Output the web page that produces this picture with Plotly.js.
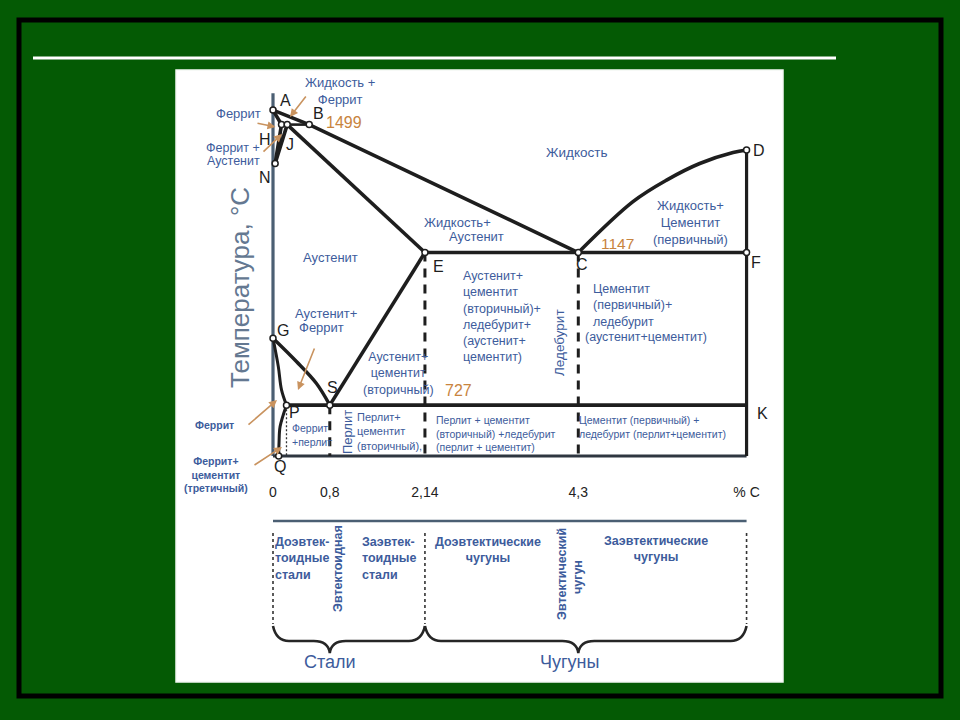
<!DOCTYPE html>
<html><head><meta charset="utf-8">
<script src="https://cdn.plot.ly/plotly-3.0.1.min.js"></script>
<style>html,body{margin:0;padding:0;background:#045a04;} #chart{width:960px;height:720px;}</style>
</head><body><div id="chart"></div>
<script>
// ---------------- data ----------------
const pointLabels = ['A','B','H','J','N','E','C','D','F','G','S','P','Q','K'];
const pointCarbon = [0, 0.51, 0.12, 0.2, 0.03, 2.14, 4.3, 6.67, 6.67, 0, 0.8, 0.19, 0.08, 6.67];
const pointTemp   = [1539, 1499, 1499, 1499, 1392, 1147, 1147, 1429, 1147, 911, 727, 727, 587, 727];
const isothermLabels = ['1499', '1147', '727'];
const liquidusCD_C = [4.3, 5.07, 5.55, 6.01, 6.48, 6.67];
const liquidusCD_T = [1147, 1287, 1347, 1392, 1422, 1429];
const curveGS_C = [0, 0.33, 0.61, 0.8];
const curveGS_T = [911, 847, 787, 727];
const curveGP_C = [0, 0.075, 0.12, 0.19];
const curveGP_T = [911, 833, 769, 727];
const curvePQ_C = [0.19, 0.1, 0.085, 0.08];
const curvePQ_T = [727, 668, 623, 587];
const axisTopTemp = 1585;
const carbonTicks = [0, 0.8, 2.14, 4.3, 6.67];
const carbonTickText = ['0', '0,8', '2,14', '4,3', '% C'];
const solidPaths = [['A','B','C'], ['J','E'], ['H','J','B'], ['A','H','N','J'], ['E','C','F'], ['P','S','K'], ['S','E']];
const dashedFrom = ['E','C','S'];
const markerPoints = ['A','B','H','J','N','E','C','D','F','G','S','P','Q'];

// ---------------- helpers ----------------
const FONT = 'Liberation Sans, Arial, sans-serif';
const BLUE = '#3d5c9c', ORANGE = '#c8843e', ARROW = '#c9935f', SLATE = '#4b5f73', INK = '#1e1e1e';
const idx = l => pointLabels.indexOf(l);
const Cc = l => pointCarbon[idx(l)];
const Tt = l => pointTemp[idx(l)];
const bottomT = Tt('Q'), cMax = Cc('F');
const X0 = 273, PXC = 71, PY0 = 253.9, T0 = 1143.2, PYT = 0.3634;
const xRange = [-X0 / PXC, (960 - X0) / PXC];
const yRange = [T0 - (720 - PY0) / PYT, T0 + PY0 / PYT];
const px = x => x / 960, py = y => 1 - y / 720;

const traces = [];
const ln = (x, y, style, extra) => traces.push(Object.assign({type:'scatter', mode:'lines', x, y, line: style, hoverinfo:'skip', showlegend:false}, extra || {}));

// axes of the diagram
ln([0, 0], [bottomT, axisTopTemp], {color: SLATE, width: 3.2});
ln([0, cMax], [bottomT, bottomT], {color: '#2e3640', width: 3.2});
ln([cMax, cMax], [Tt('D'), bottomT], {color: INK, width: 3.2});
// phase lines
solidPaths.forEach(p => ln(p.map(Cc), p.map(Tt), {color: INK, width: p[0]==='H' ? 2.6 : 3.6}));
ln(liquidusCD_C, liquidusCD_T, {color: INK, width: 3.6, shape: 'spline', smoothing: 1});
ln(curveGS_C, curveGS_T, {color: INK, width: 3.4, shape: 'spline', smoothing: 1});
ln(curveGP_C, curveGP_T, {color: INK, width: 3, shape: 'spline', smoothing: 1});
ln(curvePQ_C, curvePQ_T, {color: INK, width: 3, shape: 'spline', smoothing: 1});
// dashed verticals
dashedFrom.forEach(l => ln([Cc(l), Cc(l)], [Tt(l), bottomT], {color: INK, width: 3, dash: '9px,7px'}));
ln([Cc('P'), Cc('P')], [Tt('P'), bottomT], {color: '#333', width: 1.3, dash: '2px,2px'});
// points
traces.push({type:'scatter', mode:'markers', x: markerPoints.map(Cc), y: markerPoints.map(Tt),
  marker: {size: 6, color: '#fff', line: {color: INK, width: 1.5}}, hoverinfo:'skip', showlegend:false});

// ---------------- annotations ----------------
const ann = [];
const txt = (x, y, text, o) => ann.push(Object.assign({xref:'paper', yref:'paper', x: px(x), y: py(y), text, showarrow:false,
  xanchor:'center', yanchor:'middle', font:{family: FONT, size: 13, color: BLUE}}, o || {}));
const f = (size, color, extra) => Object.assign({family: FONT, size, color: color || BLUE}, extra || {});
const arrow = (tx, ty, sx, sy) => ann.push({xref:'paper', yref:'paper', x: px(tx), y: py(ty), ax: sx - tx, ay: sy - ty,
  axref:'pixel', ayref:'pixel', text:'', showarrow:true, arrowhead:2, arrowsize:1, arrowwidth:1.6, arrowcolor: ARROW});

// point letters
const letterPos = {A:[285,101], B:[318,113], H:[265,139], J:[290,145], N:[265,177], D:[759,150], E:[438,266], C:[582,264],
  F:[756,262], G:[283,331], S:[332,387], P:[294,412], Q:[280,466], K:[762,413]};
pointLabels.forEach(l => txt(letterPos[l][0], letterPos[l][1], l, {font: f(16, INK)}));
// isotherm values
txt(344, 122, isothermLabels[0], {font: f(16, ORANGE)});
txt(617, 243, isothermLabels[1], {font: f(15.5, ORANGE)});
txt(458, 391, isothermLabels[2], {font: f(16, ORANGE)});

// axis title
txt(240, 288, 'Температура, °С', {textangle: -90, font: f(26, '#647891')});

// phase region labels
txt(340, 91, 'Жидкость +<br>Феррит', {font: f(13)});
txt(238, 113, 'Феррит', {font: f(13)});
txt(262, 148, 'Феррит +', {xanchor:'right', font: f(12.5)});
txt(262, 161, 'Аустенит', {xanchor:'right', font: f(12.5)});
txt(576, 152, 'Жидкость', {font: f(13.5)});
txt(690, 222, 'Жидкость+<br>Цементит<br>(первичный)', {font: f(13)});
txt(457, 222, 'Жидкость+', {font: f(13)});
txt(476, 237, 'Аустенит', {font: f(13)});
txt(330, 257, 'Аустенит', {font: f(13)});
txt(461, 316, 'Аустенит+<br>цементит<br>(вторичный)+<br>ледебурит+<br>(аустенит+<br>цементит)', {xanchor:'left', align:'left', font: f(12.5)});
txt(591, 305, 'Цементит<br>(первичный)+<br>ледебурит', {xanchor:'left', align:'left', font: f(12.5)});
txt(583, 337, '(аустенит+цементит)', {xanchor:'left', font: f(12.5)});
txt(326, 313, 'Аустенит+', {font: f(13)});
txt(321, 328, 'Феррит', {font: f(13)});
txt(398, 373, 'Аустенит+<br>цементит<br>(вторичный)', {font: f(12.5)});
txt(355, 431, 'Перлит+<br>цементит<br>(вторичный),', {xanchor:'left', align:'left', font: f(11)});
txt(290, 435, 'Феррит<br>+перлит', {xanchor:'left', align:'left', font: f(10.5)});
txt(347, 432, 'Перлит', {textangle: -90, font: f(13)});
txt(559, 343, 'Ледебурит', {textangle: -90, font: f(13.5)});
txt(434, 433, 'Перлит + цементит<br>(вторичный) +ледебурит<br>(перлит + цементит)', {xanchor:'left', align:'left', font: f(10.5)});
txt(577, 427, 'Цементит (первичный) +<br>ледебурит (перлит+цементит)', {xanchor:'left', align:'left', font: f(10.5)});
txt(214, 425, 'Феррит', {font: f(10.5, BLUE, {weight: 'bold'})});
txt(216, 474, 'Феррит+<br>цементит<br>(третичный)', {font: f(10.5, BLUE, {weight: 'bold'})});

// arrows
arrow(290, 117, 307, 95);
arrow(275.5, 127, 256, 123);
arrow(282, 134, 262, 153);
arrow(298, 390, 315, 347);
arrow(277, 400, 247, 426);
arrow(282, 447, 253, 466);

// classification section
const B = f(12.5, BLUE, {weight: 'bold'});
txt(273, 558, 'Доэвтек-<br>тоидные<br>стали', {xanchor:'left', align:'left', font: B});
txt(338, 569, 'Эвтектоидная', {textangle: -90, font: B});
txt(360, 558, 'Заэвтек-<br>тоидные<br>стали', {xanchor:'left', align:'left', font: B});
txt(488, 550, 'Доэвтектические<br>чугуны', {font: B});
txt(562, 574, 'Эвтектический', {textangle: -90, font: B});
txt(578, 577, 'чугун', {textangle: -90, font: B});
txt(656, 549, 'Заэвтектические<br>чугуны', {font: B});
txt(330, 662, 'Стали', {font: f(18)});
txt(569, 662, 'Чугуны', {font: f(18)});

// ---------------- shapes (decoration) ----------------
const shapes = [];
shapes.push({type:'rect', xref:'paper', yref:'paper', x0: px(176), x1: px(783), y0: py(70), y1: py(682), fillcolor:'#fff', line:{color:'#f4f7f4', width:1.5}, layer:'below'});
shapes.push({type:'rect', xref:'paper', yref:'paper', x0: px(19), x1: px(941), y0: py(20), y1: py(696), line:{color:'#000', width:5}, layer:'below'});
shapes.push({type:'line', xref:'paper', yref:'paper', x0: px(33), x1: px(836), y0: py(58), y1: py(58), line:{color:'#fff', width:3}, layer:'below'});
// classification band
shapes.push({type:'line', xref:'x', yref:'paper', x0: 0, x1: cMax, y0: py(521), y1: py(521), line:{color: SLATE, width: 2.6}});
[0, Cc('E'), cMax].forEach(c => shapes.push({type:'line', xref:'x', yref:'paper', x0: c, x1: c, y0: py(533), y1: py(624), line:{color:'#333', width:1.6, dash:'dot'}}));
function brace(x0, xm, x1) {
  const yE = py(626), yM = py(641), yT = py(653), c = 16 / PXC;
  return `M ${x0},${yE} Q ${x0 + c * 0.2},${yM} ${x0 + c},${yM} L ${xm - c},${yM} Q ${xm - c * 0.1},${yM} ${xm},${yT} Q ${xm + c * 0.1},${yM} ${xm + c},${yM} L ${x1 - c},${yM} Q ${x1 - c * 0.2},${yM} ${x1},${yE}`;
}
shapes.push({type:'path', xref:'x', yref:'paper', path: brace(0, Cc('S'), Cc('E')), line:{color:'#262626', width:2.6}});
shapes.push({type:'path', xref:'x', yref:'paper', path: brace(Cc('E'), Cc('C'), cMax), line:{color:'#262626', width:2.6}});

const layout = {
  width: 960, height: 720, margin: {l:0, r:0, t:0, b:0},
  paper_bgcolor: '#045a04', plot_bgcolor: 'rgba(0,0,0,0)', showlegend: false,
  xaxis: {range: xRange, domain: [0, 1], showgrid:false, zeroline:false, showline:false, ticks:'',
    tickvals: carbonTicks, ticktext: carbonTickText, tickfont: {family: FONT, size: 14, color: '#222'},
    anchor: 'free', position: py(482), fixedrange: true},
  yaxis: {range: yRange, domain: [0, 1], visible: false, fixedrange: true},
  annotations: ann, shapes: shapes
};
Plotly.newPlot('chart', traces, layout, {staticPlot: true, displayModeBar: false});
</script>
</body></html>
